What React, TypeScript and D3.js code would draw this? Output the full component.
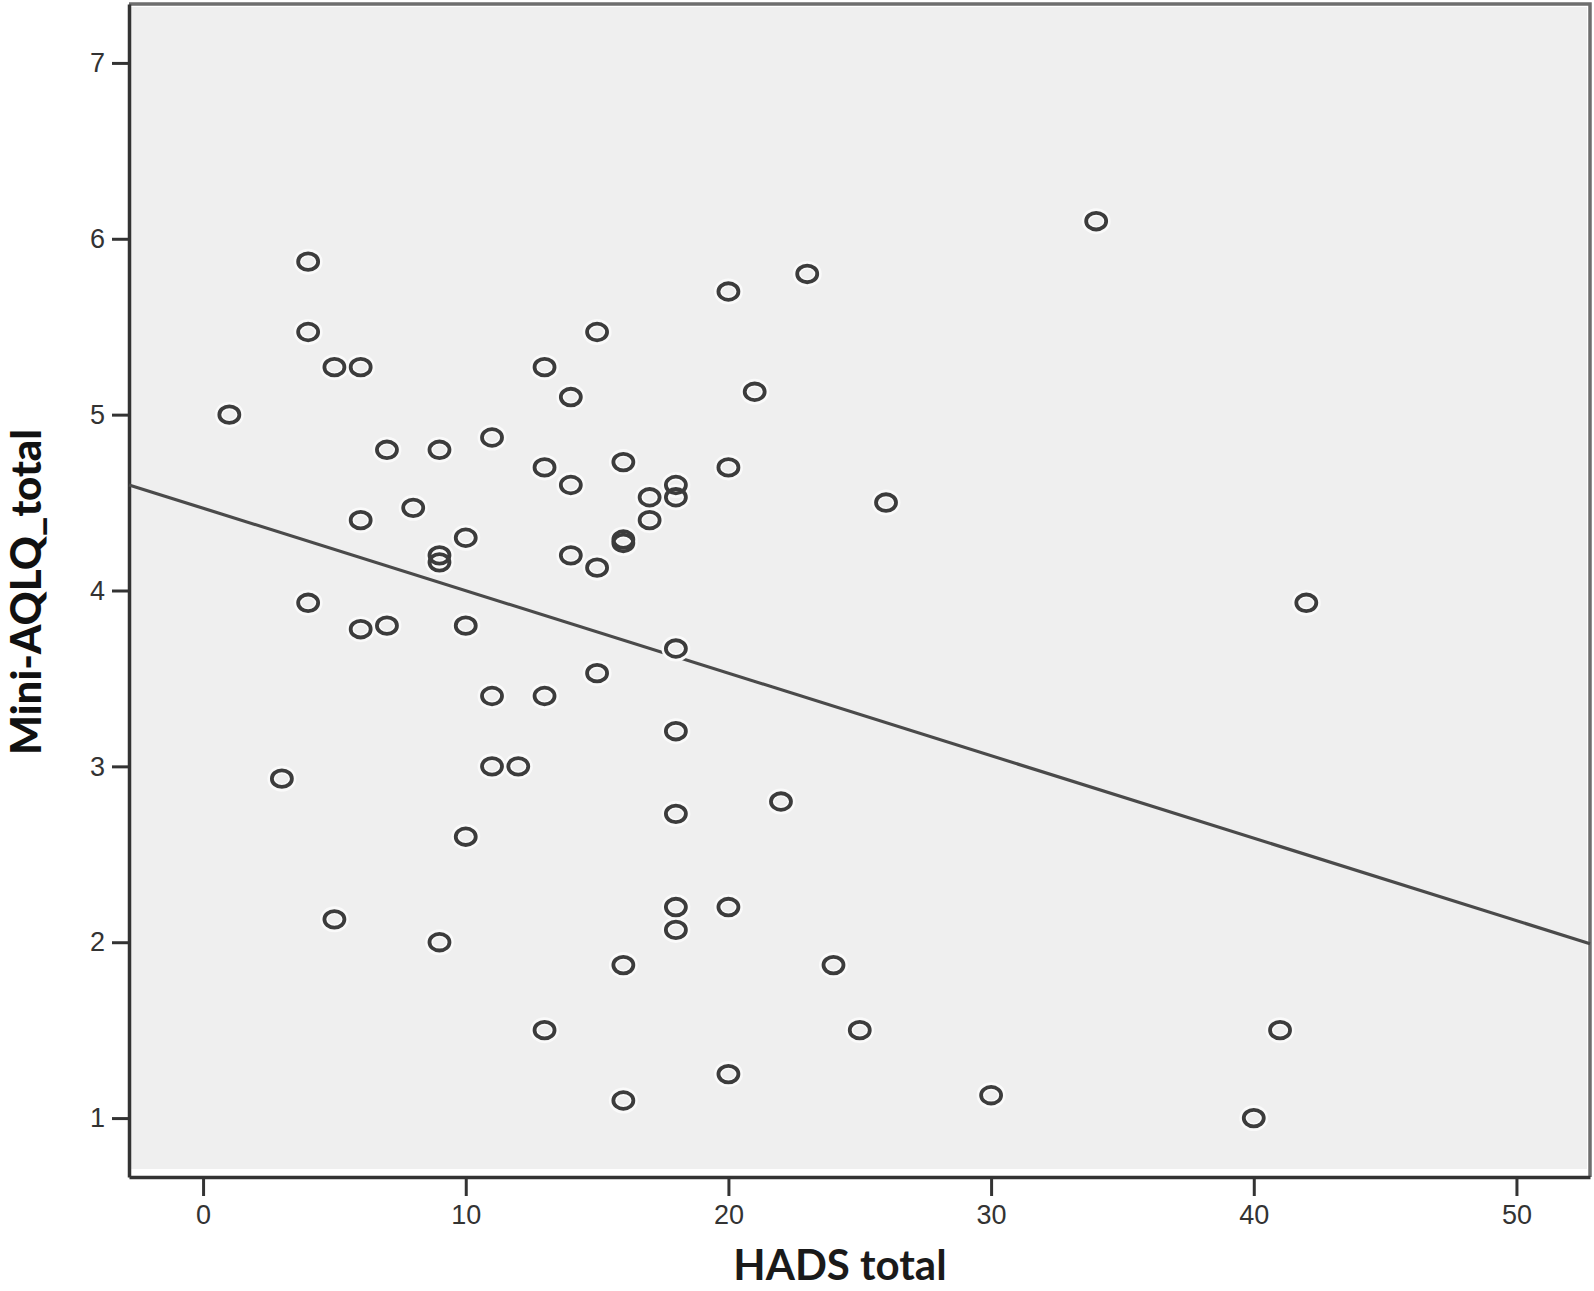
import React, { useRef, useEffect } from 'react';
import * as d3 from 'd3';

// HADS total (x) and Mini-AQLQ total (y)
const hads = [
  1, 4, 4, 5, 6, 7, 9, 8, 6, 10, 9, 9, 11, 13, 14, 15, 13, 14, 14, 15,
  16, 16, 16, 17, 17, 18, 18, 18, 20, 20, 21, 23, 26, 34, 42, 4, 6, 7, 10, 15,
  11, 13, 18, 11, 12, 3, 18, 22, 10, 5, 9, 18, 18, 20, 16, 24, 13, 25, 41, 20,
  16, 30, 40
];
const aqlq = [
  5.0, 5.87, 5.47, 5.27, 5.27, 4.8, 4.8, 4.47, 4.4, 4.3, 4.2, 4.16, 4.87, 5.27, 5.1, 5.47, 4.7, 4.6, 4.2, 4.13,
  4.73, 4.29, 4.27, 4.53, 4.4, 4.6, 4.53, 3.67, 5.7, 4.7, 5.13, 5.8, 4.5, 6.1, 3.93, 3.93, 3.78, 3.8, 3.8, 3.53,
  3.4, 3.4, 3.2, 3.0, 3.0, 2.93, 2.73, 2.8, 2.6, 2.13, 2.0, 2.2, 2.07, 2.2, 1.87, 1.87, 1.5, 1.5, 1.5, 1.25,
  1.1, 1.13, 1.0
];
const xTicks = [0, 10, 20, 30, 40, 50];
const yTicks = [1, 2, 3, 4, 5, 6, 7];
// linear fit line
const fitIntercept = 4.468;
const fitSlope = -0.0469;

const W = 1594;
const H = 1291;
const left = 129, right = 1590, top = 4, bottom = 1177;

export default function App() {
  const ref = useRef(null);

  useEffect(() => {
    if (ref.current) draw(ref.current);
  }, []);

  return (
    <div style={{ position: 'absolute', left: 0, top: 0 }}>
      <svg ref={ref} width={W} height={H} />
    </div>
  );
}

const draw = (node) => {
  const svg = d3.select(node);
  svg.selectAll('*').remove();

  const x = d3.scaleLinear().domain([-2.82, 52.8]).range([left, right]);
  const y = d3.scaleLinear().domain([0.665, 7.335]).range([bottom, top]);

  svg.append('rect').attr('width', W).attr('height', H).attr('fill', '#fff');

  // plot panel
  svg
    .append('rect')
    .attr('x', left + 1)
    .attr('y', top + 3)
    .attr('width', right - left - 4)
    .attr('height', bottom - top - 11)
    .attr('fill', '#efefef');

  // top & right frame
  svg
    .append('path')
    .attr('d', `M${left},${top}H${right}V${bottom}`)
    .attr('fill', 'none')
    .attr('stroke', '#6e6e6e')
    .attr('stroke-width', 3.5);

  const fontTick = '"Liberation Sans", Arial, sans-serif';

  // y axis
  const yAxis = svg
    .append('g')
    .attr('transform', `translate(${left},0)`)
    .call(
      d3.axisLeft(y).tickValues(yTicks).tickFormat(d3.format('d'))
        .tickSize(17).tickPadding(7).tickSizeOuter(0)
    );
  yAxis.select('.domain').attr('stroke', '#333').attr('stroke-width', 3.5);
  yAxis.selectAll('.tick line').attr('stroke', '#333').attr('stroke-width', 3);
  yAxis
    .selectAll('.tick text')
    .attr('fill', '#333')
    .style('font-family', fontTick)
    .style('font-size', '27px');

  // x axis
  const xAxis = svg
    .append('g')
    .attr('transform', `translate(0,${bottom})`)
    .call(
      d3.axisBottom(x).tickValues(xTicks).tickFormat(d3.format('d'))
        .tickSize(19).tickPadding(9).tickSizeOuter(0)
    );
  xAxis.select('.domain').attr('stroke', '#333').attr('stroke-width', 3.5);
  xAxis.selectAll('.tick line').attr('stroke', '#333').attr('stroke-width', 3);
  xAxis
    .selectAll('.tick text')
    .attr('fill', '#333')
    .style('font-family', fontTick)
    .style('font-size', '27px');

  // fit line
  const xd = x.domain();
  svg
    .append('line')
    .attr('x1', x(xd[0]))
    .attr('y1', y(fitIntercept + fitSlope * xd[0]))
    .attr('x2', x(xd[1]))
    .attr('y2', y(fitIntercept + fitSlope * xd[1]))
    .attr('stroke', '#4a4a4a')
    .attr('stroke-width', 3.2);

  const pts = hads.map((h, i) => [h, aqlq[i]]);

  // white halo, then the marker ring
  svg
    .append('g')
    .selectAll('ellipse')
    .data(pts)
    .join('ellipse')
    .attr('cx', (d) => x(d[0]))
    .attr('cy', (d) => y(d[1]))
    .attr('rx', 10.5)
    .attr('ry', 9)
    .attr('fill', 'none')
    .attr('stroke', '#fafafa')
    .attr('stroke-width', 8);

  svg
    .append('g')
    .selectAll('ellipse')
    .data(pts)
    .join('ellipse')
    .attr('cx', (d) => x(d[0]))
    .attr('cy', (d) => y(d[1]))
    .attr('rx', 10)
    .attr('ry', 8.3)
    .attr('fill', 'none')
    .attr('stroke', '#3c3c3c')
    .attr('stroke-width', 3.8);

  // axis titles
  svg
    .append('text')
    .attr('x', 840)
    .attr('y', 1280)
    .attr('text-anchor', 'middle')
    .style('font-family', 'Lato, "Open Sans", sans-serif')
    .style('font-weight', 700)
    .style('font-size', '42px')
    .attr('fill', '#1a1a1a')
    .text('HADS total');

  svg
    .append('text')
    .attr('transform', `translate(41,${592}) rotate(-90)`)
    .attr('text-anchor', 'middle')
    .style('font-family', 'Lato, "Open Sans", sans-serif')
    .style('font-weight', 900)
    .style('font-size', '42px')
    .attr('fill', '#111')
    .text('Mini-AQLQ_total');
};
